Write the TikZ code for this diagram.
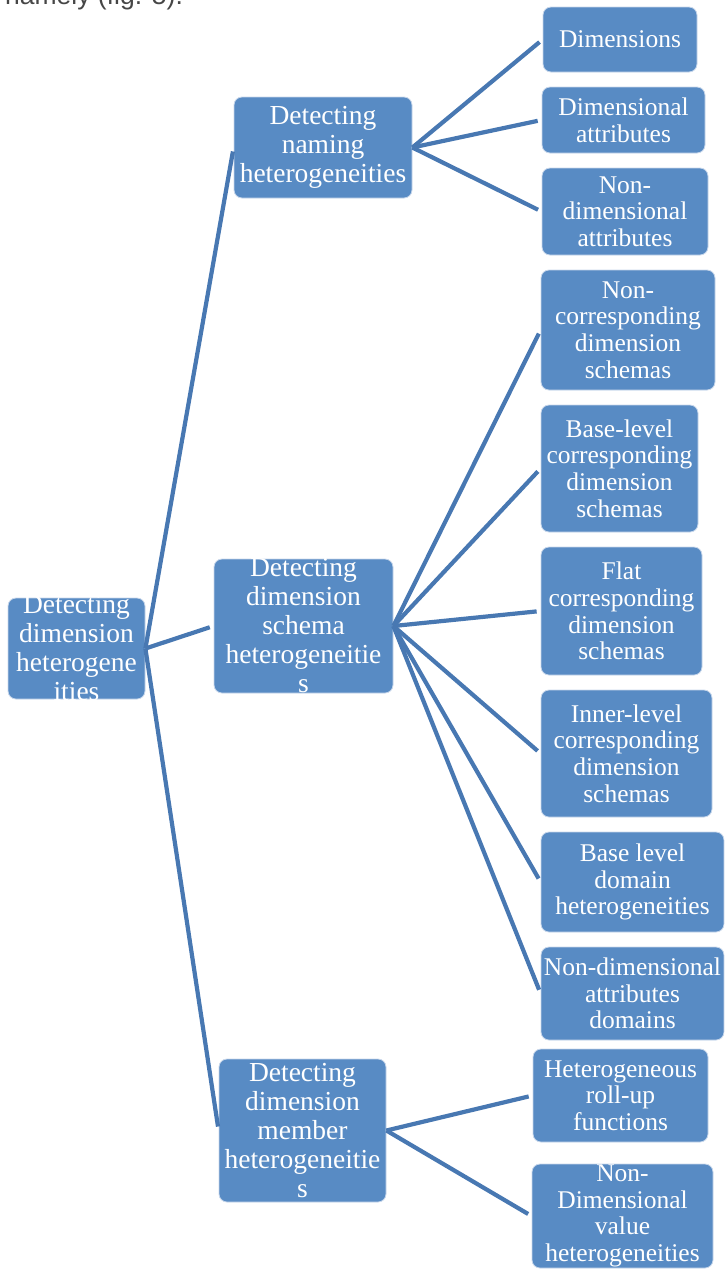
\documentclass[tikz,border=0pt]{standalone}
\usepackage{fontspec}
\setmainfont{Liberation Serif}
\newfontfamily\capsans{Liberation Sans}
\definecolor{boxblue}{RGB}{88,139,196}
\definecolor{boxedge}{RGB}{200,215,235}
\definecolor{linkblue}{RGB}{72,120,178}
\definecolor{captiongrey}{RGB}{70,70,70}
\newcommand\bigfnt{\fontsize{27.5}{29}\selectfont}
\newcommand\smallfnt{\fontsize{25.5}{26.7}\selectfont}
\tikzset{
  box/.style={rectangle, rounded corners=8pt, fill=boxblue, draw=boxedge, line width=0.8pt, inner sep=0pt},
  bigtxt/.style={text=white, align=center, font=\bigfnt, inner sep=0pt},
  smalltxt/.style={text=white, align=center, font=\smallfnt, inner sep=0pt},
  link/.style={draw=linkblue, line width=4.2pt, shorten >=4pt}
}
\begin{document}
\begin{tikzpicture}[x=1pt,y=-1pt]
\useasboundingbox (0,0) rectangle (724,1270);
\begin{scope}
\clip (0,0) rectangle (724,1270);
% caption fragment at the top
\node[anchor=base west, inner sep=0pt, text=captiongrey, font=\capsans\fontsize{26.5}{30}\selectfont] (caption) at (5,4) {namely (fig. 5).};

% boxes
\node[box, minimum width=137, minimum height=101] (root) at (76.5,648.5) {};
\node[box, minimum width=178, minimum height=101] (naming) at (323,147.5) {};
\node[box, minimum width=179, minimum height=134] (schema) at (303.5,626) {};
\node[box, minimum width=167, minimum height=143] (member) at (302.5,1130.5) {};

\node[box, minimum width=154, minimum height=65] (dims) at (620,39.5) {};
\node[box, minimum width=163, minimum height=66] (dimattr) at (623.5,120) {};
\node[box, minimum width=166, minimum height=87] (nondimattr) at (625,211.5) {};

\node[box, minimum width=174, minimum height=120] (noncorr) at (628,330) {};
\node[box, minimum width=157, minimum height=127] (baselevel) at (619.5,468.5) {};
\node[box, minimum width=161, minimum height=128] (flat) at (621.5,611) {};
\node[box, minimum width=171, minimum height=127] (inner) at (626.5,753.5) {};
\node[box, minimum width=183, minimum height=100] (basedom) at (632.5,882) {};
\node[box, minimum width=183, minimum height=93] (nondimdom) at (632.5,993.5) {};

\node[box, minimum width=175, minimum height=93] (hetero) at (620.5,1095.5) {};
\node[box, minimum width=181, minimum height=104] (nondimval) at (622.5,1216) {};

% connectors
\draw[link] (root.east) -- (naming.west);
\draw[link] (root.east) -- (schema.west);
\draw[link] (root.east) -- (member.west);

\draw[link] (naming.east) -- (dims.west);
\draw[link] (naming.east) -- (dimattr.west);
\draw[link] (naming.east) -- (nondimattr.west);

\draw[link] (schema.east) -- (noncorr.west);
\draw[link] (schema.east) -- (baselevel.west);
\draw[link] (schema.east) -- (flat.west);
\draw[link] (schema.east) -- (inner.west);
\draw[link] (schema.east) -- (basedom.west);
\draw[link] (schema.east) -- (nondimdom.west);

\draw[link] (member.east) -- (hetero.west);
\draw[link] (member.east) -- (nondimval.west);

% texts
\node[bigtxt] (rootT) at (root.center) {Detecting\\dimension\\heterogene\\ities};
\node[bigtxt] (namingT) at (naming.center) {Detecting\\naming\\heterogeneities};
\node[bigtxt] (schemaT) at (schema.center) {Detecting\\dimension\\schema\\heterogeneitie\\s};
\node[bigtxt] (memberT) at (member.center) {Detecting\\dimension\\member\\heterogeneitie\\s};

\node[smalltxt] (dimsT) at (dims.center) {Dimensions};
\node[smalltxt] (dimattrT) at (dimattr.center) {Dimensional\\attributes};
\node[smalltxt] (nondimattrT) at (nondimattr.center) {Non-\\dimensional\\attributes};

\node[smalltxt] (noncorrT) at (noncorr.center) {Non-\\corresponding\\dimension\\schemas};
\node[smalltxt] (baselevelT) at (baselevel.center) {Base-level\\corresponding\\dimension\\schemas};
\node[smalltxt] (flatT) at (flat.center) {Flat\\corresponding\\dimension\\schemas};
\node[smalltxt] (innerT) at (inner.center) {Inner-level\\corresponding\\dimension\\schemas};
\node[smalltxt] (basedomT) at (basedom.center) {Base level\\domain\\heterogeneities};
\node[smalltxt] (nondimdomT) at (nondimdom.center) {Non-dimensional\\attributes\\domains};

\node[smalltxt] (heteroT) at (hetero.center) {Heterogeneous\\roll-up\\functions};
\node[smalltxt] (nondimvalT) at (nondimval.center) {Non-\\Dimensional\\value\\heterogeneities};
\end{scope}
\end{tikzpicture}
\end{document}
